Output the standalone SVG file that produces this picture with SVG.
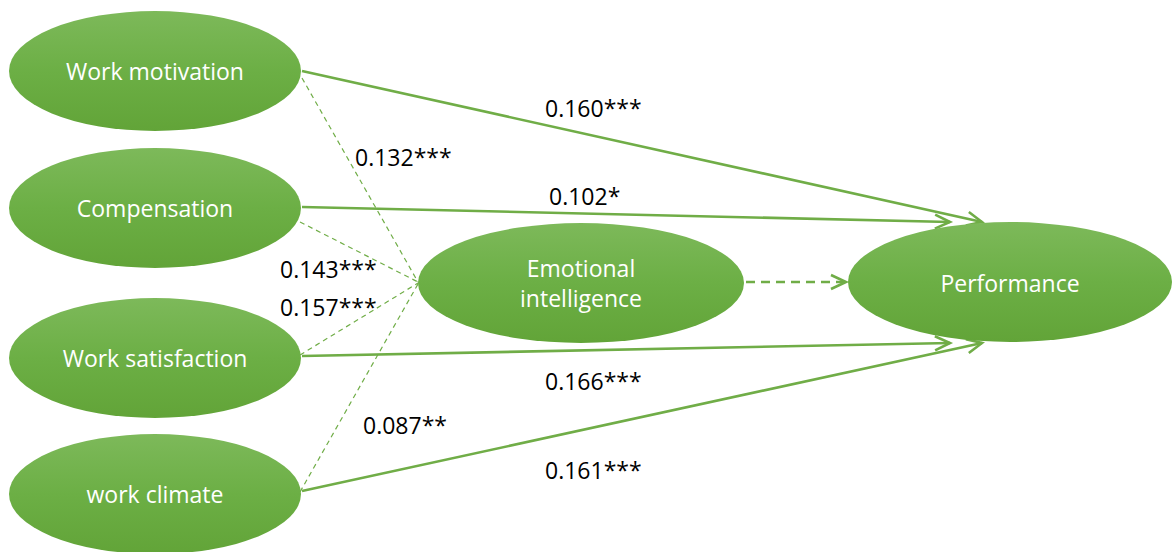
<svg xmlns="http://www.w3.org/2000/svg" width="1172" height="552" viewBox="0 0 1172 552">
<defs>
<linearGradient id="g" x1="0" y1="0" x2="0" y2="1">
<stop offset="0" stop-color="#7db95a"/>
<stop offset="0.5" stop-color="#6caf45"/>
<stop offset="1" stop-color="#62a438"/>
</linearGradient>
<marker id="arr" markerUnits="userSpaceOnUse" markerWidth="20" markerHeight="20" refX="16" refY="8" orient="auto" viewBox="0 0 20 16">
<path d="M1,1 L16,8 L1,15" fill="none" stroke="#70ad47" stroke-width="2.6"/>
</marker>
</defs>
<style>
.n{fill:url(#g);}
.t{font-family:"Open Sans","Liberation Sans",sans-serif;font-size:23px;fill:#ffffff;text-anchor:middle;}
.l{font-family:"Open Sans","Liberation Sans",sans-serif;font-size:23px;fill:#000000;}
.s{stroke:#70ad47;stroke-width:2.6;fill:none;marker-end:url(#arr);}
.d{stroke:#70ad47;stroke-width:1.2;fill:none;stroke-dasharray:5 4;}
.dt{stroke:#70ad47;stroke-width:2.6;fill:none;stroke-dasharray:9 6;marker-end:url(#arr);}
</style>
<g id="connectors">
<line class="s" x1="302" y1="71" x2="982" y2="222"/>
<line class="s" x1="302" y1="207" x2="950" y2="222"/>
<line class="s" x1="302" y1="356" x2="950" y2="343"/>
<line class="s" x1="302" y1="491" x2="982" y2="343"/>
<line class="dt" x1="746" y1="282" x2="846" y2="282"/>
<line class="d" x1="302" y1="78" x2="418" y2="282"/>
<line class="d" x1="300" y1="222" x2="418" y2="282"/>
<line class="d" x1="300" y1="355" x2="418" y2="283"/>
<line class="d" x1="300" y1="492" x2="418" y2="284"/>
</g>
<g id="work-motivation">
<ellipse class="n" cx="155" cy="71" rx="146" ry="60"/>
<text class="t" x="155" y="80">Work motivation</text>
</g>
<g id="compensation">
<ellipse class="n" cx="155" cy="208" rx="146" ry="60"/>
<text class="t" x="155" y="217">Compensation</text>
</g>
<g id="work-satisfaction">
<ellipse class="n" cx="155" cy="358" rx="146" ry="60"/>
<text class="t" x="155" y="367">Work satisfaction</text>
</g>
<g id="work-climate">
<ellipse class="n" cx="155" cy="494" rx="146" ry="60"/>
<text class="t" x="155" y="503">work climate</text>
</g>
<g id="emotional-intelligence">
<ellipse class="n" cx="581" cy="283" rx="163" ry="60"/>
<text class="t" x="581" y="277">Emotional</text>
<text class="t" x="581" y="307">intelligence</text>
</g>
<g id="performance">
<ellipse class="n" cx="1010" cy="282" rx="162" ry="60"/>
<text class="t" x="1010" y="292">Performance</text>
</g>
<g id="labels">
<text class="l" x="545" y="117">0.160***</text>
<text class="l" x="355" y="166">0.132***</text>
<text class="l" x="549" y="205">0.102*</text>
<text class="l" x="280" y="278">0.143***</text>
<text class="l" x="280" y="316">0.157***</text>
<text class="l" x="545" y="390">0.166***</text>
<text class="l" x="363" y="434">0.087**</text>
<text class="l" x="545" y="479">0.161***</text>
</g>
</svg>
